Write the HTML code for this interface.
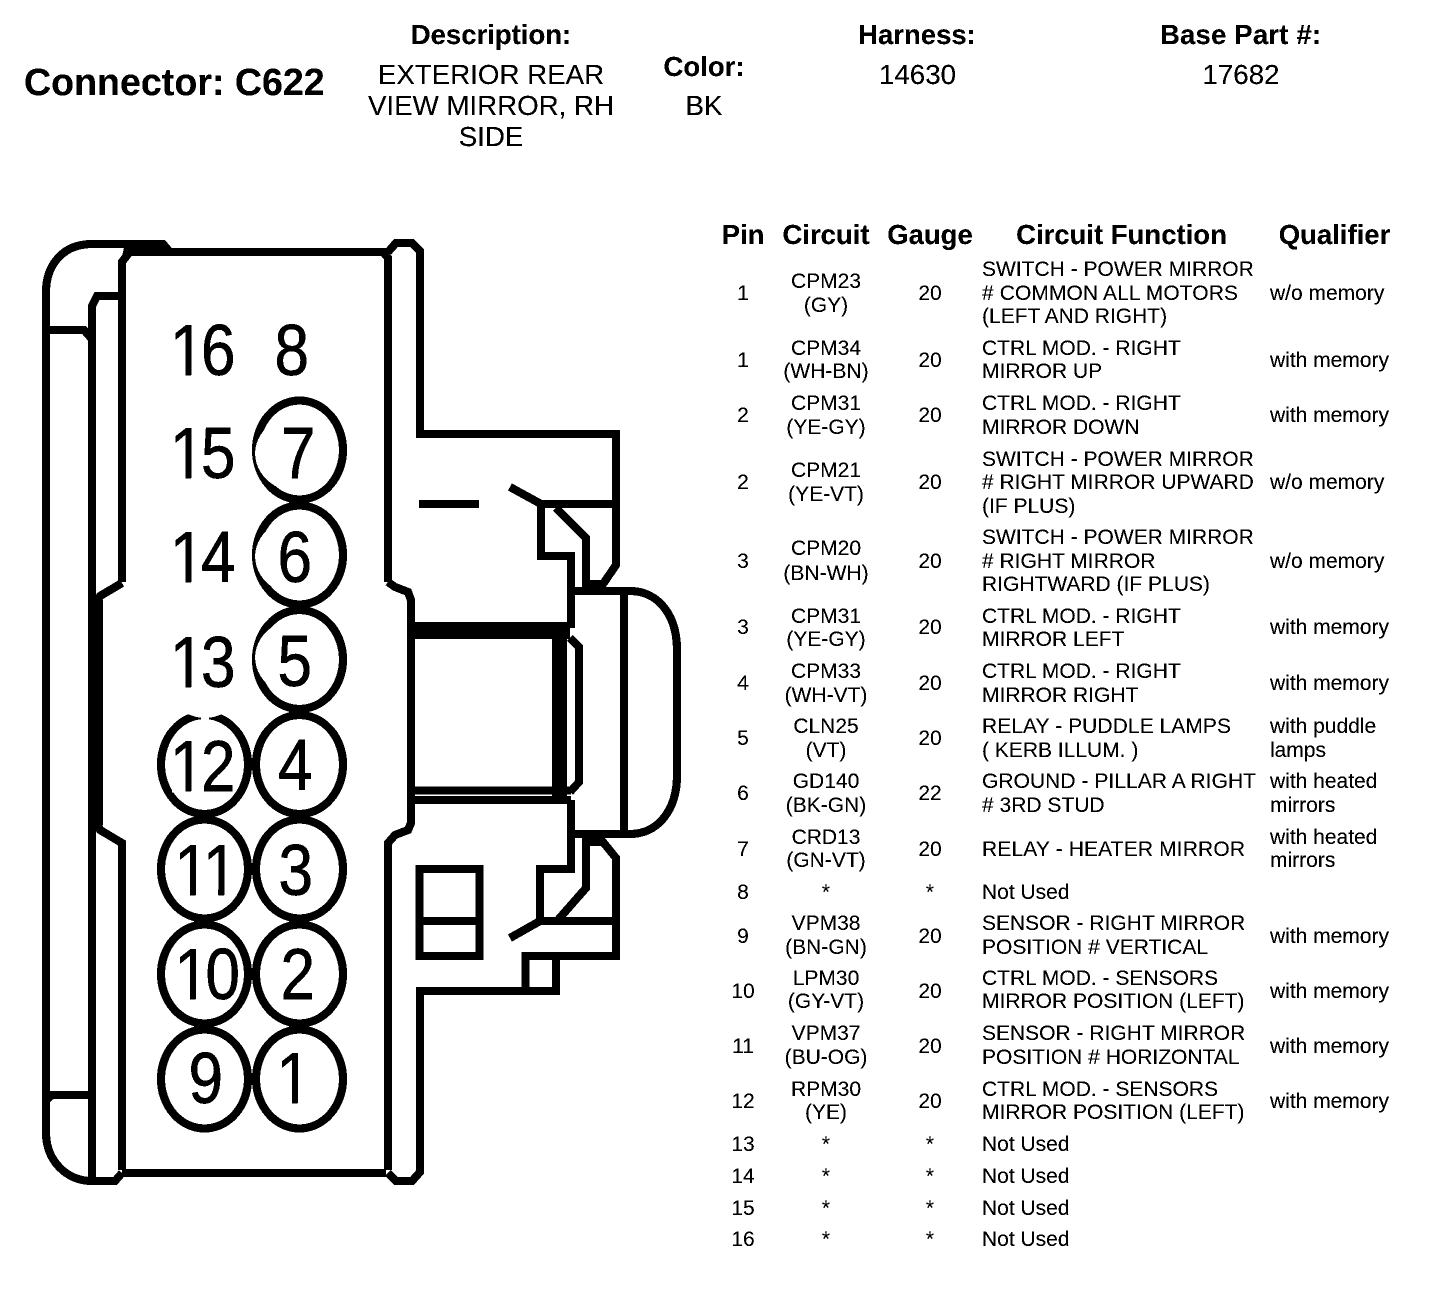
<!DOCTYPE html>
<html><head><meta charset="utf-8"><title>Connector C622</title>
<style>
html,body{margin:0;padding:0;background:#fff}
svg{display:block}
text{font-family:"Liberation Sans",Arial,sans-serif;fill:#000}
.h{font-weight:bold;font-size:27.5px;text-anchor:middle}
.v{font-size:27.7px;text-anchor:middle}
.c{font-size:21px;text-anchor:middle}
.l{font-size:21px}
.n{font-size:62px;letter-spacing:-3.5px;stroke:#000;stroke-width:.5;font-kerning:none}
.d{fill:none;stroke:#000;stroke-width:8}
.w{fill:#fff}
</style></head><body>
<svg width="1440" height="1304" viewBox="0 0 1440 1304" xmlns="http://www.w3.org/2000/svg">
<defs><filter id="bw" x="0" y="0" width="100%" height="100%" color-interpolation-filters="sRGB"><feComponentTransfer><feFuncR type="discrete" tableValues="0 0 1"/><feFuncG type="discrete" tableValues="0 0 1"/><feFuncB type="discrete" tableValues="0 0 1"/></feComponentTransfer></filter></defs>
<g filter="url(#bw)">
<rect width="1440" height="1304" fill="#fff"/>
<text x="24" y="95" style="font-weight:bold;font-size:37.6px">Connector: C622</text>
<text class="h" x="491" y="44">Description:</text>
<text class="v" x="491" y="84">EXTERIOR REAR</text>
<text class="v" x="491" y="115">VIEW MIRROR, RH</text>
<text class="v" x="491" y="146">SIDE</text>
<text class="h" x="704" y="76">Color:</text>
<text class="v" x="704" y="115">BK</text>
<text class="h" x="917" y="44">Harness:</text>
<text class="v" x="917.5" y="84">14630</text>
<text class="h" x="1240.5" y="44" textLength="161">Base Part #:</text>
<text class="v" x="1241" y="84">17682</text>

<text class="h" x="743" y="244">Pin</text>
<text class="h" x="826" y="244">Circuit</text>
<text class="h" x="930" y="244">Gauge</text>
<text class="h" x="1121.5" y="244">Circuit Function</text>
<text class="h" x="1334.5" y="244">Qualifier</text>

<!-- connector drawing -->
<g class="d">
<path d="M46 1133V292C46 266 62 244 92 244H163L169 251"/>
<path d="M122 1170V843L100 830L97 823"/>
<path d="M122 582V262L128 254L124 252H388"/>
<path d="M122 583L100 596L96 604"/>
<path d="M92 1181V306L97 296H122"/>
<path d="M46 330H84L91 338"/>
<path d="M388 582V258L383 252M388 252L396 243H412L420 251V434H616V565L603 584H586V538L556 508M616 504H541V556H571V628"/>
<path d="M541 504L510 487"/>
<path d="M419 504H479"/>
<path d="M388 582L395 587L408 592L411 600V823L408 830L395 835L388 843V1170"/>
<path d="M388 1173L396 1181H412L420 1172V991H556V956H525.5V991"/>
<path d="M525.5 956H616V858L603 842H586V888L557 921M616 921H540V869H571V800"/>
<path d="M540 921L510 938"/>
<path d="M571 591H630C658 591 677 615 677 650V775C677 810 658 834 630 834H571"/>
<path d="M624 591V834"/>
<path d="M570 638L579 647V782L570 792"/>
<path d="M415 790.5H571M415 800H571"/>
<path d="M122 1173H386"/>
<path d="M46 1133C46 1160 66 1181 92 1181H115L122 1173"/>
<path d="M46 1100L52 1095H88"/>
<rect x="419.5" y="869" width="60" height="87"/>
<path d="M419.5 921H480"/>
<path d="M407 630.5H570" stroke-width="17"/>
<path d="M559.5 630V800" stroke-width="15"/>
<path d="M95.5 600V825" stroke-width="15"/>
</g>
<g class="d">
<ellipse cx="299.5" cy="450" rx="43.5" ry="49.5"/>
<ellipse cx="299.5" cy="555" rx="43.5" ry="49.5"/>
<ellipse cx="299.5" cy="659.5" rx="43.5" ry="49.5"/>
<ellipse cx="299.5" cy="764.5" rx="43.5" ry="49.5"/>
<ellipse cx="299.5" cy="869" rx="43.5" ry="49.5"/>
<ellipse cx="299.5" cy="974" rx="43.5" ry="49.5"/>
<ellipse cx="299.5" cy="1079" rx="43.5" ry="49.5"/>
<ellipse cx="204.5" cy="764.5" rx="43.5" ry="49.5"/>
<ellipse cx="204.5" cy="869" rx="43.5" ry="49.5"/>
<ellipse cx="204.5" cy="974" rx="43.5" ry="49.5"/>
<ellipse cx="204.5" cy="1079" rx="43.5" ry="49.5"/>
</g>
<!-- tapered gaps in ellipse strokes -->
<path class="w" d="M275 421A48 40 0 0 0 275 486Z"/>
<path class="w" d="M275 524A48 40 0 0 0 275 589Z"/>
<path class="w" d="M275 625A48 40 0 0 0 275 690Z"/>
<ellipse class="w" cx="205" cy="700" rx="27" ry="18"/>
<rect class="w" x="201" y="711" width="8" height="10"/>

<text class="n" transform="translate(170,375) scale(1,1.16)">16</text>
<text class="n" transform="translate(274.5,375) scale(1,1.16)">8</text>
<text class="n" transform="translate(170,478) scale(1,1.16)">15</text>
<text class="n" transform="translate(281,478) scale(1,1.16)">7</text>
<text class="n" transform="translate(170,582) scale(1,1.16)">14</text>
<text class="n" transform="translate(277.5,582) scale(1,1.16)">6</text>
<text class="n" transform="translate(170,687) scale(1,1.16)">13</text>
<text class="n" transform="translate(277.5,686) scale(1,1.16)">5</text>
<text class="n" transform="translate(170,791) scale(1,1.16)">12</text>
<text class="n" transform="translate(278,790) scale(1,1.16)">4</text>
<text class="n" transform="translate(174.5,895) scale(1,1.16)" style="letter-spacing:-6px">11</text>
<text class="n" transform="translate(278.5,895) scale(1,1.16)">3</text>
<text class="n" transform="translate(174.5,999) scale(1,1.16)">10</text>
<text class="n" transform="translate(280.5,999) scale(1,1.16)">2</text>
<text class="n" transform="translate(188.5,1103) scale(1,1.16)">9</text>
<text class="n" transform="translate(276.5,1103) scale(1,1.16)">1</text>

<!-- trim the foot serif off the large digit 1 -->
<g class="w">
<rect x="172" y="367.5" width="13.4" height="9"/><rect x="191.3" y="367.5" width="10.3" height="9"/>
<rect x="172" y="470.5" width="13.4" height="9"/><rect x="191.3" y="470.5" width="10.3" height="9"/>
<rect x="172" y="574.5" width="13.4" height="9"/><rect x="191.3" y="574.5" width="10.3" height="9"/>
<rect x="172" y="679.5" width="13.4" height="9"/><rect x="191.3" y="679.5" width="10.3" height="9"/>
<rect x="172" y="783.5" width="13.4" height="9"/><rect x="191.3" y="783.5" width="10.3" height="9"/>
<rect x="176.5" y="887.5" width="13.4" height="9"/><rect x="195.8" y="887.5" width="22.5" height="9"/>
<rect x="224.3" y="887.5" width="12.5" height="9"/>
<rect x="176.5" y="991.5" width="13.4" height="9"/><rect x="195.8" y="991.5" width="10.3" height="9"/>
<rect x="278.5" y="1095.5" width="13.4" height="9"/><rect x="297.8" y="1095.5" width="12.5" height="9"/>
</g>

<!-- table -->
<text class="c" x="743" y="300">1</text><text class="c" x="826" y="288">CPM23</text><text class="c" x="826" y="312">(GY)</text><text class="c" x="930" y="300">20</text><text class="l" x="982" y="276">SWITCH - POWER MIRROR</text><text class="l" x="982" y="300" textLength="256"># COMMON ALL MOTORS</text><text class="l" x="982" y="323">(LEFT AND RIGHT)</text><text class="l" x="1270" y="300">w/o memory</text>
<text class="c" x="743" y="367">1</text><text class="c" x="826" y="355">CPM34</text><text class="c" x="826" y="378">(WH-BN)</text><text class="c" x="930" y="367">20</text><text class="l" x="982" y="355">CTRL MOD. - RIGHT</text><text class="l" x="982" y="378">MIRROR UP</text><text class="l" x="1270" y="367">with memory</text>
<text class="c" x="743" y="422">2</text><text class="c" x="826" y="410">CPM31</text><text class="c" x="826" y="434">(YE-GY)</text><text class="c" x="930" y="422">20</text><text class="l" x="982" y="410">CTRL MOD. - RIGHT</text><text class="l" x="982" y="434">MIRROR DOWN</text><text class="l" x="1270" y="422">with memory</text>
<text class="c" x="743" y="489">2</text><text class="c" x="826" y="477">CPM21</text><text class="c" x="826" y="501">(YE-VT)</text><text class="c" x="930" y="489">20</text><text class="l" x="982" y="466">SWITCH - POWER MIRROR</text><text class="l" x="982" y="489"># RIGHT MIRROR UPWARD</text><text class="l" x="982" y="513">(IF PLUS)</text><text class="l" x="1270" y="489">w/o memory</text>
<text class="c" x="743" y="568">3</text><text class="c" x="826" y="555">CPM20</text><text class="c" x="826" y="580">(BN-WH)</text><text class="c" x="930" y="568">20</text><text class="l" x="982" y="544">SWITCH - POWER MIRROR</text><text class="l" x="982" y="568"># RIGHT MIRROR</text><text class="l" x="982" y="591">RIGHTWARD (IF PLUS)</text><text class="l" x="1270" y="568">w/o memory</text>
<text class="c" x="743" y="634">3</text><text class="c" x="826" y="623">CPM31</text><text class="c" x="826" y="646">(YE-GY)</text><text class="c" x="930" y="634">20</text><text class="l" x="982" y="623">CTRL MOD. - RIGHT</text><text class="l" x="982" y="646">MIRROR LEFT</text><text class="l" x="1270" y="634">with memory</text>
<text class="c" x="743" y="690">4</text><text class="c" x="826" y="678">CPM33</text><text class="c" x="826" y="702">(WH-VT)</text><text class="c" x="930" y="690">20</text><text class="l" x="982" y="678">CTRL MOD. - RIGHT</text><text class="l" x="982" y="702">MIRROR RIGHT</text><text class="l" x="1270" y="690">with memory</text>
<text class="c" x="743" y="745">5</text><text class="c" x="826" y="733">CLN25</text><text class="c" x="826" y="757">(VT)</text><text class="c" x="930" y="745">20</text><text class="l" x="982" y="733" textLength="249">RELAY - PUDDLE LAMPS</text><text class="l" x="982" y="757">( KERB ILLUM. )</text><text class="l" x="1270" y="733">with puddle</text><text class="l" x="1270" y="757">lamps</text>
<text class="c" x="743" y="800">6</text><text class="c" x="826" y="788">GD140</text><text class="c" x="826" y="812">(BK-GN)</text><text class="c" x="930" y="800">22</text><text class="l" x="982" y="788" textLength="274">GROUND - PILLAR A RIGHT</text><text class="l" x="982" y="812"># 3RD STUD</text><text class="l" x="1270" y="788">with heated</text><text class="l" x="1270" y="812">mirrors</text>
<text class="c" x="743" y="856">7</text><text class="c" x="826" y="844">CRD13</text><text class="c" x="826" y="867">(GN-VT)</text><text class="c" x="930" y="856">20</text><text class="l" x="982" y="856" textLength="263">RELAY - HEATER MIRROR</text><text class="l" x="1270" y="844">with heated</text><text class="l" x="1270" y="867">mirrors</text>
<text class="c" x="743" y="899">8</text><text class="c" x="826" y="899">*</text><text class="c" x="930" y="899">*</text><text class="l" x="982" y="899">Not Used</text>
<text class="c" x="743" y="943">9</text><text class="c" x="826" y="930">VPM38</text><text class="c" x="826" y="954">(BN-GN)</text><text class="c" x="930" y="943">20</text><text class="l" x="982" y="930">SENSOR - RIGHT MIRROR</text><text class="l" x="982" y="954">POSITION # VERTICAL</text><text class="l" x="1270" y="943">with memory</text>
<text class="c" x="743" y="998">10</text><text class="c" x="826" y="985">LPM30</text><text class="c" x="826" y="1008">(GY-VT)</text><text class="c" x="930" y="998">20</text><text class="l" x="982" y="985">CTRL MOD. - SENSORS</text><text class="l" x="982" y="1008">MIRROR POSITION (LEFT)</text><text class="l" x="1270" y="998">with memory</text>
<text class="c" x="743" y="1053">11</text><text class="c" x="826" y="1040">VPM37</text><text class="c" x="826" y="1064">(BU-OG)</text><text class="c" x="930" y="1053">20</text><text class="l" x="982" y="1040">SENSOR - RIGHT MIRROR</text><text class="l" x="982" y="1064">POSITION # HORIZONTAL</text><text class="l" x="1270" y="1053">with memory</text>
<text class="c" x="743" y="1108">12</text><text class="c" x="826" y="1096">RPM30</text><text class="c" x="826" y="1119">(YE)</text><text class="c" x="930" y="1108">20</text><text class="l" x="982" y="1096">CTRL MOD. - SENSORS</text><text class="l" x="982" y="1119">MIRROR POSITION (LEFT)</text><text class="l" x="1270" y="1108">with memory</text>
<text class="c" x="743" y="1151">13</text><text class="c" x="826" y="1151">*</text><text class="c" x="930" y="1151">*</text><text class="l" x="982" y="1151">Not Used</text>
<text class="c" x="743" y="1183">14</text><text class="c" x="826" y="1183">*</text><text class="c" x="930" y="1183">*</text><text class="l" x="982" y="1183">Not Used</text>
<text class="c" x="743" y="1215">15</text><text class="c" x="826" y="1215">*</text><text class="c" x="930" y="1215">*</text><text class="l" x="982" y="1215">Not Used</text>
<text class="c" x="743" y="1246">16</text><text class="c" x="826" y="1246">*</text><text class="c" x="930" y="1246">*</text><text class="l" x="982" y="1246">Not Used</text>
</g>
</svg>
</body></html>
